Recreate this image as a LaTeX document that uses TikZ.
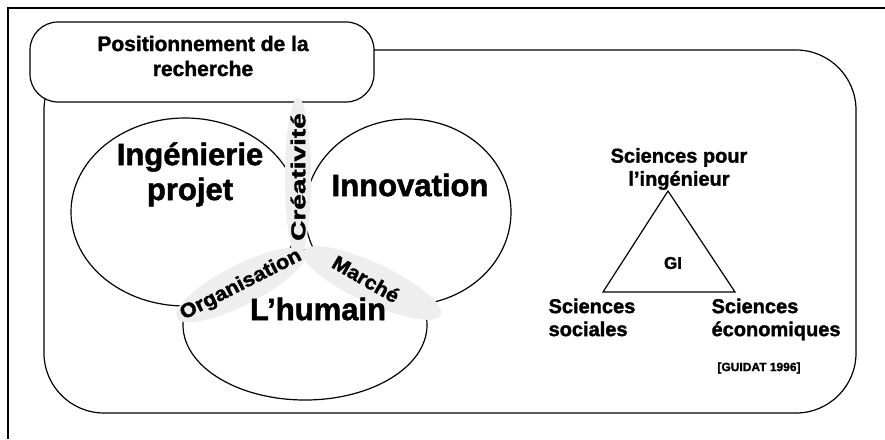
\documentclass[tikz,border=0pt]{standalone}
\usepackage{fontspec}
\setmainfont{Liberation Sans}[BoldFeatures={FakeBold=1.6}]
\usetikzlibrary{positioning}
\tikzset{
  big/.style={font=\bfseries\fontsize{31}{35}\selectfont, align=center, inner sep=0pt},
  band/.style={fill=gray!13, draw=none},
  tag/.style={font=\bfseries\fontsize{20}{22}\selectfont, inner sep=0pt},
  sci/.style={font=\bfseries\fontsize{20}{23}\selectfont, inner sep=0pt},
}

\begin{document}
\begin{tikzpicture}[x=1pt, y=-1pt, line width=1.2pt]
  \useasboundingbox (0,0) rectangle (885,439);
  % cadre
  \draw[line width=2pt] (8,439) -- (8,8) -- (885,8);
  \draw[rounded corners=60pt] (44,50) rectangle (856,413);
  \draw[fill=white, rounded corners=28pt] (30,22) rectangle (374,102);
  \draw (203,56) node[align=center, font=\bfseries\fontsize{21}{25}\selectfont] (titre){Positionnement de la\\recherche};

  % les trois poles
  \draw (305,325) ellipse (122 and 75);
  \draw[fill=white] (185,212) ellipse (114 and 94);
  \draw[fill=white] (408,212) ellipse (103 and 93);
  \begin{scope}[band]
    \fill (298,178) ellipse (13 and 80);
    \fill[rotate around={27:(241,285)}] (241,285) ellipse (72 and 20);
    \fill[rotate around={-25:(372,283)}] (372,283) ellipse (76 and 20);
  \end{scope}
  \draw
    (190,157) node[big] (ing){Ingénierie}
    (190,192) node[big] (proj){projet}
    (410,185) node[big] (inno){Innovation}
    (318,309) node[big] (hum){L’humain};
  \draw
    (298,177) node[tag, rotate=90] (crea){\scalebox{1.4}[1]{Créativité}}
    (241,285) node[tag, rotate=27] (orga){\scalebox{1.08}[1]{Organisation}}
    (366,279) node[tag, rotate=-30] (marche){\scalebox{1.05}[1]{Marché}};

  % triangle GI
  \coordinate (spi) at (668,191);
  \coordinate (ss) at (603,292);
  \coordinate (se) at (735,292);
  \draw (spi) -- (ss) -- (se) -- cycle;
  \draw
    (679,169) node[sci, align=center] (lspi){Sciences pour\\l’ingénieur}
    (548,298) node[sci, align=left, anchor=north west] (lss){Sciences\\sociales}
    (711,298) node[sci, align=left, anchor=north west] (lse){Sciences\\économiques}
    (673,263) node[font=\bfseries\fontsize{17}{18}\selectfont] (gi){GI}
    (759,368) node[font=\bfseries\fontsize{12}{13}\selectfont] (ref){[GUIDAT 1996]};
\end{tikzpicture}
\end{document}
